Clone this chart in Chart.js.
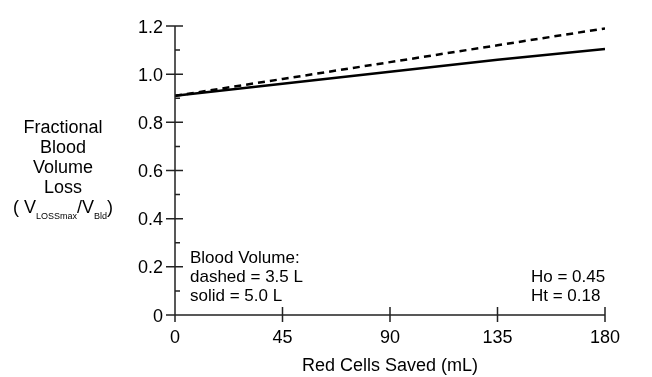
<!DOCTYPE html>
<html><head><meta charset="utf-8">
<script src="https://cdn.jsdelivr.net/npm/chart.js@4/dist/chart.umd.min.js"></script>
<style>html,body{margin:0;padding:0;background:#fff}#wrap{width:652px;height:377px}</style>
</head><body><div id="wrap"><canvas id="c" width="652" height="377"></canvas></div>
<script>
const redCellsSaved = [0, 45, 90, 135, 180];
const dashed35L = [0.91, 0.98, 1.05, 1.12, 1.19];
const solid50L = [0.91, 0.96, 1.01, 1.06, 1.105];
const xTicks = [0, 45, 90, 135, 180];
const yTicks = [0, 0.2, 0.4, 0.6, 0.8, 1.0, 1.2];
const yMinorTicks = [0.1, 0.3, 0.5, 0.7, 0.9, 1.1];
const FONT = '"Liberation Sans", Arial, Helvetica, sans-serif';

const axesPlugin = {
  id: 'axesPlugin',
  afterDraw(chart) {
    const ctx = chart.ctx, xs = chart.scales.x, ys = chart.scales.y;
    const x0 = xs.getPixelForValue(0), y0 = ys.getPixelForValue(0);
    ctx.save();
    ctx.strokeStyle = '#222'; ctx.lineWidth = 1.5;
    ctx.beginPath();
    ctx.moveTo(x0, ys.getPixelForValue(1.2)); ctx.lineTo(x0, y0);
    ctx.moveTo(x0, y0); ctx.lineTo(xs.getPixelForValue(180), y0);
    yTicks.forEach(v => { const p = ys.getPixelForValue(v); ctx.moveTo(x0 - 9, p); ctx.lineTo(x0 + 8, p); });
    yMinorTicks.forEach(v => { const p = ys.getPixelForValue(v); ctx.moveTo(x0, p); ctx.lineTo(x0 + 5, p); });
    xTicks.forEach(v => { const p = xs.getPixelForValue(v); ctx.moveTo(p, y0 - 8); ctx.lineTo(p, y0 + 7); });
    ctx.stroke();

    ctx.fillStyle = '#000';
    ctx.font = '18px ' + FONT;
    ctx.textBaseline = 'alphabetic';
    ctx.textAlign = 'right';
    yTicks.forEach(v => { const p = ys.getPixelForValue(v); ctx.fillText(v === 0 ? '0' : v.toFixed(1), x0 - 12, p + 6.5); });
    ctx.textAlign = 'center';
    xTicks.forEach(v => { const p = xs.getPixelForValue(v); ctx.fillText(String(v), p, y0 + 28); });
    ctx.fillText('Red Cells Saved (mL)', (xs.left + xs.right) / 2, 371);
    const cx = 63;
    ['Fractional', 'Blood', 'Volume', 'Loss'].forEach((t, i) => ctx.fillText(t, cx, 133 + i * 20));
    const parts = [['( V', 18, 0], ['LOSSmax', 9, 6], ['/V', 18, 0], ['Bld', 9, 6], [')', 18, 0]];
    let total = 0;
    parts.forEach(p => { ctx.font = p[1] + 'px ' + FONT; total += ctx.measureText(p[0]).width; });
    let px = cx - total / 2;
    ctx.textAlign = 'left';
    parts.forEach(p => { ctx.font = p[1] + 'px ' + FONT; ctx.fillText(p[0], px, 213 + p[2]); px += ctx.measureText(p[0]).width; });
    ctx.font = '17px ' + FONT;
    ctx.fillText('Blood Volume:', 190, 263);
    ctx.fillText('dashed = 3.5 L', 190, 282);
    ctx.fillText('solid = 5.0 L', 190, 301);
    ctx.fillText('Ho = 0.45', 531, 282);
    ctx.fillText('Ht = 0.18', 531, 301);
    ctx.restore();
  }
};

new Chart(document.getElementById('c'), {
  type: 'line',
  data: {
    labels: redCellsSaved,
    datasets: [
      { label: 'dashed = 3.5 L', data: redCellsSaved.map((x, i) => ({x, y: dashed35L[i]})), borderColor: '#000', borderWidth: 2.5, borderDash: [7, 5], pointRadius: 0, fill: false, tension: 0 },
      { label: 'solid = 5.0 L', data: redCellsSaved.map((x, i) => ({x, y: solid50L[i]})), borderColor: '#000', borderWidth: 2.5, pointRadius: 0, fill: false, tension: 0 }
    ]
  },
  options: {
    responsive: false, animation: false,
    layout: { padding: { top: 26, right: 47, left: 0, bottom: 0 } },
    plugins: { legend: { display: false }, tooltip: { enabled: false } },
    scales: {
      x: { type: 'linear', min: 0, max: 180, border: { display: false }, grid: { display: false }, ticks: { display: false },
           afterFit(s) { s.height = 62; } },
      y: { min: 0, max: 1.2, border: { display: false }, grid: { display: false }, ticks: { display: false },
           afterFit(s) { s.width = 175; } }
    }
  },
  plugins: [axesPlugin]
});
</script></body></html>
